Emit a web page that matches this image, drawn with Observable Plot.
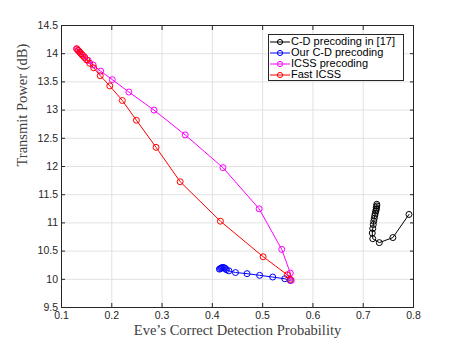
<!DOCTYPE html>
<html>
<head>
<meta charset="utf-8">
<script src="https://cdn.jsdelivr.net/npm/d3@7"></script>
<script src="https://cdn.jsdelivr.net/npm/@observablehq/plot@0.6"></script>
<style>
  html, body { margin: 0; padding: 0; background: #fff; }
  #wrap { position: relative; width: 457px; height: 346px; }
  #legend { position: absolute; left: 268px; top: 34px; width: 136px; height: 47px;
    border: 1px solid #262626; background: #fff; box-sizing: border-box; padding-top: 1px;
    font-family: "Liberation Sans", Arial, sans-serif; font-size: 11px; line-height: 11px; color: #000; }
  .row { display: flex; align-items: center; height: 11px; line-height: 11px; white-space: nowrap; }
  .row svg { margin-left: 1px; margin-right: 1px; flex: none; }
</style>
</head>
<body>
<div id="wrap"><div id="legend"></div></div>
<script>
// ---- data ----
const seriesNames = ["C-D precoding in [17]", "Our C-D precoding", "ICSS precoding", "Fast ICSS"];
const seriesColors = ["#000000", "#0000ff", "#ff00ff", "#ff0000"];

const blackX = [0.727, 0.727, 0.726, 0.726, 0.725, 0.724, 0.723, 0.722, 0.721, 0.720, 0.719, 0.718, 0.719, 0.732, 0.759, 0.791];
const blackY = [11.33, 11.30, 11.27, 11.24, 11.21, 11.17, 11.13, 11.08, 11.03, 10.97, 10.90, 10.82, 10.72, 10.65, 10.74, 11.15];

const blueX = [0.414, 0.416, 0.418, 0.420, 0.422, 0.424, 0.426, 0.428, 0.433, 0.446, 0.469, 0.494, 0.520, 0.544, 0.555];
const blueY = [10.18, 10.19, 10.20, 10.21, 10.21, 10.20, 10.19, 10.17, 10.15, 10.12, 10.10, 10.07, 10.04, 10.01, 9.98];

const magentaX = [0.131, 0.134, 0.137, 0.141, 0.146, 0.153, 0.163, 0.178, 0.201, 0.234, 0.284, 0.346, 0.421, 0.493, 0.538, 0.555, 0.557];
const magentaY = [14.08, 14.05, 14.02, 13.98, 13.94, 13.88, 13.80, 13.69, 13.54, 13.32, 13.00, 12.56, 11.98, 11.25, 10.53, 10.11, 9.98];

const redX = [0.130, 0.133, 0.136, 0.139, 0.142, 0.146, 0.150, 0.156, 0.164, 0.177, 0.196, 0.221, 0.249, 0.288, 0.336, 0.416, 0.501, 0.549, 0.555];
const redY = [14.09, 14.06, 14.03, 14.00, 13.97, 13.93, 13.89, 13.83, 13.75, 13.61, 13.43, 13.17, 12.82, 12.34, 11.73, 11.03, 10.40, 10.08, 10.00];

const xTicks = [0.1, 0.2, 0.3, 0.4, 0.5, 0.6, 0.7, 0.8];
const yTicks = [9.5, 10, 10.5, 11, 11.5, 12, 12.5, 13, 13.5, 14, 14.5];
const xLabel = "Eve\u2019s Correct Detection Probability";
const yLabel = "Transmit Power (dB)";

// ---- build table ----
const seriesXs = [blackX, blueX, magentaX, redX];
const seriesYs = [blackY, blueY, magentaY, redY];
const rows = [];
seriesNames.forEach((name, i) => {
  seriesXs[i].forEach((x, j) => rows.push({series: name, x, y: seriesYs[i][j]}));
});

const marks = [
  Plot.gridX(xTicks, {stroke: "#e2e2e2", strokeOpacity: 1, strokeWidth: 1}),
  Plot.gridY(yTicks, {stroke: "#e2e2e2", strokeOpacity: 1, strokeWidth: 1}),
];
seriesNames.forEach((name, i) => {
  const d = rows.filter(r => r.series === name);
  marks.push(Plot.line(d, {x: "x", y: "y", stroke: seriesColors[i], strokeWidth: 1}));
  marks.push(Plot.dot(d, {x: "x", y: "y", r: 3, stroke: seriesColors[i], fill: "none", strokeWidth: 1}));
});
const serif = "'Liberation Serif', 'DejaVu Serif', serif";
marks.push(
  Plot.frame({stroke: "#262626", strokeWidth: 1}),
  Plot.axisX({anchor: "bottom", ticks: xTicks, tickSize: -4, tickPadding: 8, tickFormat: d => String(d), label: null}),
  Plot.axisX({anchor: "top", ticks: xTicks, tickSize: -4, tickFormat: () => "", label: null}),
  Plot.axisY({anchor: "left", ticks: yTicks, tickSize: -4, tickPadding: 7.5, tickFormat: d => String(d), label: null}),
  Plot.axisY({anchor: "right", ticks: yTicks, tickSize: -4, tickFormat: () => "", label: null}),
  Plot.text([xLabel], {frameAnchor: "bottom", dy: 17, lineAnchor: "top", text: d => d,
    fontFamily: serif, fontSize: 14.5, fill: "#404040"}),
  Plot.text([yLabel], {frameAnchor: "left", dx: -39, rotate: -90, text: d => d,
    fontFamily: serif, fontSize: 14.5, fill: "#404040"})
);

const chart = Plot.plot({
  width: 457,
  height: 346,
  marginLeft: 61,
  marginRight: 44,
  marginTop: 25,
  marginBottom: 39,
  x: {domain: [0.1, 0.8]},
  y: {domain: [9.5, 14.5]},
  style: {background: "#fff", color: "#262626", fontFamily: "'Liberation Sans', Arial, sans-serif", fontSize: "10.5px"},
  marks
});
document.getElementById("wrap").prepend(chart);

// ---- legend ----
const legend = document.getElementById("legend");
seriesNames.forEach((name, i) => {
  const row = document.createElement("div");
  row.className = "row";
  row.innerHTML = `<svg width="20" height="10"><line x1="0" y1="5" x2="20" y2="5" stroke="${seriesColors[i]}" stroke-width="1"/><circle cx="10" cy="5" r="2.6" fill="none" stroke="${seriesColors[i]}" stroke-width="1"/></svg><span>${name}</span>`;
  legend.appendChild(row);
});
</script>
</body>
</html>
